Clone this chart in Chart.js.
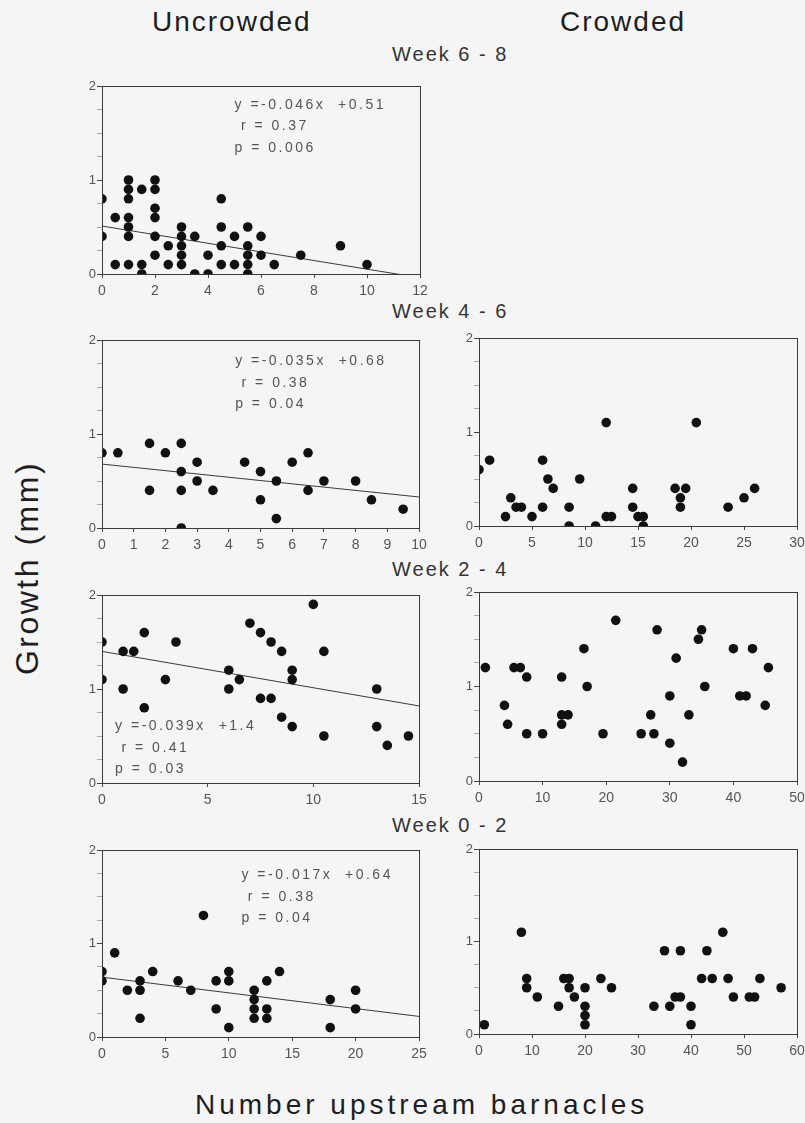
<!DOCTYPE html>
<html>
<head>
<meta charset="utf-8">
<script src="https://cdn.jsdelivr.net/npm/chart.js@4.4.1/dist/chart.umd.min.js"></script>
<style>
  body { margin: 0; background: #f5f5f5; }
  #page { position: relative; width: 805px; height: 1123px; font-family: "Liberation Sans", Arial, sans-serif; color: #1e1e1e; }
  .lbl { position: absolute; white-space: nowrap; line-height: 1; }
  .head { font-size: 28px; letter-spacing: 2px; }
  .week { font-size: 20px; letter-spacing: 2px; color: #333; }
  canvas { position: absolute; }
</style>
</head>
<body>
<div id="page">
  <div class="lbl head" style="left:152px; top:8px;">Uncrowded</div>
  <div class="lbl head" style="left:560px; top:8px;">Crowded</div>
  <div class="lbl week" style="left:392px; top:44px;">Week 6 - 8</div>
  <div class="lbl week" style="left:392px; top:301px;">Week 4 - 6</div>
  <div class="lbl week" style="left:392px; top:559px;">Week 2 - 4</div>
  <div class="lbl week" style="left:392px; top:815px;">Week 0 - 2</div>
  <div class="lbl" style="left:27px; top:568px; font-size:32px; letter-spacing:2.5px; transform:translate(-50%,-50%) rotate(-90deg);">Growth (mm)</div>
  <div class="lbl" style="left:195px; top:1091px; font-size:28px; letter-spacing:4px;">Number upstream barnacles</div>
</div>
<script>
// growth (mm) vs number of upstream barnacles, [x, y]
const week68Uncrowded = [
  [0, 0.8], [0, 0.4], [0.5, 0.6], [0.5, 0.1],
  [1, 1.0], [1, 0.9], [1, 0.8], [1, 0.6], [1, 0.5], [1, 0.4], [1, 0.1],
  [1.5, 0.9], [1.5, 0.1], [1.5, 0],
  [2, 1.0], [2, 0.9], [2, 0.7], [2, 0.6], [2, 0.4], [2, 0.2],
  [2.5, 0.3], [2.5, 0.1],
  [3, 0.5], [3, 0.4], [3, 0.3], [3, 0.2], [3, 0.1],
  [3.5, 0.4], [3.5, 0], [4, 0.2], [4, 0],
  [4.5, 0.8], [4.5, 0.5], [4.5, 0.3], [4.5, 0.1],
  [5, 0.4], [5, 0.1],
  [5.5, 0.5], [5.5, 0.3], [5.5, 0.2], [5.5, 0.1], [5.5, 0],
  [6, 0.4], [6, 0.2], [6.5, 0.1], [7.5, 0.2], [9, 0.3], [10, 0.1]
];
const week46Uncrowded = [
  [0, 0.8], [0.5, 0.8], [1.5, 0.9], [1.5, 0.4], [2, 0.8], [2.5, 0.9], [2.5, 0.6], [2.5, 0.4],
  [2.5, 0], [3, 0.7], [3, 0.5], [3.5, 0.4], [4.5, 0.7], [5, 0.6], [5, 0.3], [5.5, 0.5],
  [5.5, 0.1], [6, 0.7], [6.5, 0.8], [6.5, 0.4], [7, 0.5], [8, 0.5], [8.5, 0.3], [9.5, 0.2]
];
const week46Crowded = [
  [0, 0.6], [1, 0.7], [2.5, 0.1], [3, 0.3], [3.5, 0.2], [4, 0.2], [5, 0.1], [6, 0.7],
  [6, 0.2], [6.5, 0.5], [7, 0.4], [8.5, 0.2], [8.5, 0], [9.5, 0.5], [11, 0], [12, 1.1],
  [12, 0.1], [12.5, 0.1], [14.5, 0.4], [14.5, 0.2], [15, 0.1], [15.5, 0.1], [15.5, 0],
  [18.5, 0.4], [19, 0.3], [19, 0.2], [19.5, 0.4], [20.5, 1.1], [23.5, 0.2], [25, 0.3], [26, 0.4]
];
const week24Uncrowded = [
  [0, 1.5], [0, 1.1], [1, 1.4], [1, 1.0], [1.5, 1.4], [2, 1.6], [2, 0.8], [3, 1.1],
  [3.5, 1.5], [6, 1.2], [6, 1.0], [6.5, 1.1], [7, 1.7], [7.5, 1.6], [7.5, 0.9], [8, 1.5],
  [8, 0.9], [8.5, 1.4], [8.5, 0.7], [9, 1.2], [9, 1.1], [9, 0.6], [10, 1.9], [10.5, 1.4],
  [10.5, 0.5], [13, 1.0], [13, 0.6], [13.5, 0.4], [14.5, 0.5]
];
const week24Crowded = [
  [1, 1.2], [4, 0.8], [4.5, 0.6], [5.5, 1.2], [6.5, 1.2], [7.5, 1.1], [7.5, 0.5], [10, 0.5],
  [13, 1.1], [13, 0.7], [13, 0.6], [14, 0.7], [16.5, 1.4], [17, 1.0], [19.5, 0.5], [21.5, 1.7],
  [25.5, 0.5], [27, 0.7], [27.5, 0.5], [28, 1.6], [30, 0.9], [30, 0.4], [31, 1.3], [32, 0.2],
  [33, 0.7], [34.5, 1.5], [35, 1.6], [35.5, 1.0], [40, 1.4], [41, 0.9], [42, 0.9], [43, 1.4],
  [45, 0.8], [45.5, 1.2]
];
const week02Uncrowded = [
  [0, 0.7], [0, 0.6], [1, 0.9], [2, 0.5], [3, 0.6], [3, 0.5], [3, 0.2], [4, 0.7], [6, 0.6],
  [7, 0.5], [8, 1.3], [9, 0.6], [9, 0.3], [10, 0.7], [10, 0.6], [10, 0.1], [12, 0.5], [12, 0.4],
  [12, 0.3], [12, 0.2], [13, 0.6], [13, 0.3], [13, 0.2], [14, 0.7], [18, 0.4], [18, 0.1],
  [20, 0.5], [20, 0.3]
];
const week02Crowded = [
  [1, 0.1], [8, 1.1], [9, 0.6], [9, 0.5], [11, 0.4], [15, 0.3], [16, 0.6], [17, 0.6], [17, 0.5],
  [18, 0.4], [20, 0.5], [20, 0.3], [20, 0.2], [20, 0.1], [23, 0.6], [25, 0.5], [33, 0.3],
  [35, 0.9], [36, 0.3], [37, 0.4], [38, 0.9], [38, 0.4], [40, 0.3], [40, 0.1], [42, 0.6],
  [43, 0.9], [44, 0.6], [46, 1.1], [47, 0.6], [48, 0.4], [51, 0.4], [52, 0.4], [53, 0.6], [57, 0.5]
];

// regression line end points
const fit68 = [[0, 0.51], [12, -0.04]];
const fit46 = [[0, 0.68], [10, 0.33]];
const fit24 = [[0, 1.4], [15, 0.82]];
const fit02 = [[0, 0.64], [25, 0.22]];

const stats68 = ['y =-0.046x  +0.51', ' r = 0.37', 'p = 0.006'];
const stats46 = ['y =-0.035x  +0.68', ' r = 0.38', 'p = 0.04'];
const stats24 = ['y =-0.039x  +1.4', ' r = 0.41', 'p = 0.03'];
const stats02 = ['y =-0.017x  +0.64', ' r = 0.38', 'p = 0.04'];

const yTicks = [0, 1, 2];

// box = plot area in page pixels [left, top, right, bottom]
const panels = [
  { pts: week68Uncrowded, fit: fit68, stats: stats68, at: [5.0, 1.8], xMax: 12, step: 2, box: [102, 86, 420, 274] },
  { pts: week46Uncrowded, fit: fit46, stats: stats46, at: [4.2, 1.77], xMax: 10, step: 1, box: [102, 340, 419, 528] },
  { pts: week46Crowded, xMax: 30, step: 5, box: [479, 338, 797, 526] },
  { pts: week24Uncrowded, fit: fit24, stats: stats24, at: [0.62, 0.6], xMax: 15, step: 5, box: [102, 595, 419, 783] },
  { pts: week24Crowded, xMax: 50, step: 10, box: [479, 592, 797, 781] },
  { pts: week02Uncrowded, fit: fit02, stats: stats02, at: [11.0, 1.73], xMax: 25, step: 5, box: [102, 850, 419, 1037] },
  { pts: week02Crowded, xMax: 60, step: 10, box: [479, 849, 797, 1034] }
];

const PAD_L = 40, PAD_T = 10, PAD_R = 15, PAD_B = 26;

// frame round the plot area + the regression text
const framePlugin = {
  id: 'frame',
  afterDatasetsDraw(chart, args, opts) {
    const { ctx, chartArea: a, scales } = chart;
    ctx.save();
    ctx.strokeStyle = '#3a3a3a';
    ctx.lineWidth = 1;
    ctx.strokeRect(Math.round(a.left) + 0.5, Math.round(a.top) + 0.5, Math.round(a.width), Math.round(a.height));
    if (opts.lines) {
      ctx.font = '14px "Liberation Sans", Arial, sans-serif';
      ctx.fillStyle = '#555';
      ctx.letterSpacing = '2.5px';
      ctx.textBaseline = 'middle';
      const x = scales.x.getPixelForValue(opts.at[0]);
      const y = scales.y.getPixelForValue(opts.at[1]);
      opts.lines.forEach((t, i) => ctx.fillText(t, x, y + i * 21.5));
    }
    ctx.restore();
  }
};

const page = document.getElementById('page');

panels.forEach(p => {
  const [l, t, r, b] = p.box;
  const cv = document.createElement('canvas');
  cv.width = r - l + PAD_L + PAD_R;
  cv.height = b - t + PAD_T + PAD_B;
  cv.style.left = (l - PAD_L) + 'px';
  cv.style.top = (t - PAD_T) + 'px';
  page.appendChild(cv);

  const datasets = [{
    data: p.pts.map(([x, y]) => ({ x, y })),
    backgroundColor: '#111',
    borderWidth: 0,
    pointRadius: 4.8,
    clip: 0,
    order: 0
  }];
  if (p.fit) {
    datasets.push({
      data: p.fit.map(([x, y]) => ({ x, y })),
      showLine: true,
      borderColor: '#3a3a3a',
      borderWidth: 1,
      pointRadius: 0,
      clip: 0,
      order: 1
    });
  }

  new Chart(cv, {
    type: 'scatter',
    data: { datasets },
    plugins: [framePlugin],
    options: {
      responsive: false,
      animation: false,
      layout: { padding: { left: 0, top: PAD_T, right: PAD_R, bottom: 0 } },
      plugins: {
        legend: { display: false },
        tooltip: { enabled: false },
        frame: p.stats ? { lines: p.stats, at: p.at } : {}
      },
      scales: {
        x: {
          type: 'linear', min: 0, max: p.xMax,
          afterFit: s => { s.height = PAD_B; },
          border: { display: false },
          grid: { drawOnChartArea: false, tickLength: 4, tickColor: '#444' },
          ticks: {
            stepSize: p.step, maxRotation: 0, autoSkip: false, padding: 5,
            color: '#555', font: { family: 'Liberation Sans', size: 14 }
          }
        },
        y: {
          type: 'linear', min: 0, max: 2,
          afterFit: s => { s.width = PAD_L; },
          border: { display: false },
          grid: {
            drawOnChartArea: false, tickLength: 5,
            tickColor: c => yTicks.includes(c.tick.value) ? '#444' : '#aaa'
          },
          ticks: {
            stepSize: 0.25, padding: 1,
            callback: v => yTicks.includes(v) ? String(v) : '',
            color: '#555', font: { family: 'Liberation Sans', size: 13 }
          }
        }
      }
    }
  });
});
</script>
</body>
</html>
